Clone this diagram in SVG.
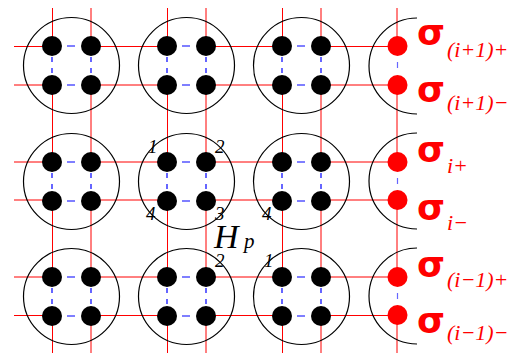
<svg xmlns="http://www.w3.org/2000/svg" width="523" height="354" viewBox="0 0 523 354">
<style>
.r{stroke:#ff0000;stroke-width:1;fill:none}
.rl{stroke:#ff0000;stroke-width:1;fill:none}
.b{stroke:#0000ff;stroke-width:1.2;fill:none}
.c{stroke:#000;stroke-width:1.2;fill:none}
.d{fill:#000}
.rd{fill:#ff0000}
.n{font-family:"Liberation Serif",serif;font-style:italic;font-size:19px;fill:#000}
.s{font-family:"DejaVu Sans",sans-serif;font-weight:bold;font-size:36px;fill:#ff0000}
.sub{font-family:"Liberation Serif",serif;font-style:italic;font-size:22px;fill:#ff0000}
</style>
<defs>
<g id="cl">
<circle class="c" cx="19.5" cy="19.5" r="48"/>
<circle class="d" cx="0" cy="0" r="10"/>
<circle class="d" cx="39" cy="0" r="10"/>
<circle class="d" cx="0" cy="39" r="10"/>
<circle class="d" cx="39" cy="39" r="10"/>
</g>
<g id="bd">
<path class="b" d="M15,0H23M15,39H23M0,11V16M0,22V27M39,11V16M39,22V27"/>
</g>
</defs>
<g id="connectors">
<path class="r" d="M52.5,8V46M52.5,85V162M52.5,200V277M52.5,315V353"/>
<path class="rl" d="M91,8V46M91,85V162M91,200V277M91,315V353"/>
<path class="r" d="M167.5,8V46M167.5,85V162M167.5,200V277M167.5,315V353"/>
<path class="rl" d="M206,8V46M206,85V162M206,200V277M206,315V353"/>
<path class="r" d="M282.5,8V46M282.5,85V162M282.5,200V277M282.5,315V353"/>
<path class="rl" d="M321,8V46M321,85V162M321,200V277M321,315V353"/>
<path class="rl" d="M397,8V46M397,85V162M397,200V277M397,315V353"/>
<path class="r" d="M14,46.5H52M91,46.5H167M206,46.5H282M321,46.5H397"/>
<path class="rl" d="M14,85H52M91,85H167M206,85H282M321,85H397"/>
<path class="rl" d="M14,162H52M91,162H167M206,162H282M321,162H397"/>
<path class="rl" d="M14,200H52M91,200H167M206,200H282M321,200H397"/>
<path class="rl" d="M14,277H52M91,277H167M206,277H282M321,277H397"/>
<path class="r" d="M14,315.5H52M91,315.5H167M206,315.5H282M321,315.5H397"/>
<use href="#bd" x="52" y="46"/><use href="#bd" x="167" y="46"/><use href="#bd" x="282" y="46"/>
<use href="#bd" x="52" y="162"/><use href="#bd" x="167" y="162"/><use href="#bd" x="282" y="162"/>
<use href="#bd" x="52" y="277"/><use href="#bd" x="167" y="277"/><use href="#bd" x="282" y="277"/>
<path class="b" d="M397.5,62V68M397.5,178V184M397.5,293V299" stroke-opacity="0.6"/>
</g>
<g id="cluster-1-1"><use href="#cl" x="52" y="46"/></g>
<g id="cluster-1-2"><use href="#cl" x="167" y="46"/></g>
<g id="cluster-1-3"><use href="#cl" x="282" y="46"/></g>
<g id="cluster-2-1"><use href="#cl" x="52" y="162"/></g>
<g id="cluster-2-2"><use href="#cl" x="167" y="162"/></g>
<g id="cluster-2-3"><use href="#cl" x="282" y="162"/></g>
<g id="cluster-3-1"><use href="#cl" x="52" y="277"/></g>
<g id="cluster-3-2"><use href="#cl" x="167" y="277"/></g>
<g id="cluster-3-3"><use href="#cl" x="282" y="277"/></g>
<g id="sigma-1">
<path class="c" d="M417,18A48,48 0 0 0 417,114"/>
<circle class="rd" cx="397.5" cy="46" r="10"/>
<circle class="rd" cx="397.5" cy="85" r="10"/>
</g>
<g id="sigma-2">
<path class="c" d="M417,133A48,48 0 0 0 417,229"/>
<circle class="rd" cx="397.5" cy="162" r="10"/>
<circle class="rd" cx="397.5" cy="200" r="10"/>
</g>
<g id="sigma-3">
<path class="c" d="M417,248A48,48 0 0 0 417,344"/>
<circle class="rd" cx="397.5" cy="277" r="10"/>
<circle class="rd" cx="397.5" cy="315" r="10"/>
</g>
<g id="labels">
<text class="n" x="148" y="153">1</text>
<text class="n" x="215" y="153">2</text>
<text class="n" x="146" y="220">4</text>
<text class="n" x="215" y="220">3</text>
<text class="n" x="262" y="220">4</text>
<text class="n" x="215" y="267">2</text>
<text class="n" x="264" y="267">1</text>
<text font-family="Liberation Serif, serif" font-style="italic" font-size="34" x="214" y="248">H</text>
<text font-family="Liberation Serif, serif" font-style="italic" font-size="21" x="244" y="248">p</text>
<text class="s" x="417" y="45">σ</text>
<text class="sub" x="447" y="57">(i+1)+</text>
<text class="s" x="417" y="102">σ</text>
<text class="sub" x="447" y="110">(i+1)−</text>
<text class="s" x="417" y="162">σ</text>
<text class="sub" x="447" y="173">i+</text>
<text class="s" x="417" y="220">σ</text>
<text class="sub" x="447" y="230">i−</text>
<text class="s" x="417" y="277">σ</text>
<text class="sub" x="447" y="287">(i−1)+</text>
<text class="s" x="417" y="333">σ</text>
<text class="sub" x="447" y="340">(i−1)−</text>
</g>
</svg>
